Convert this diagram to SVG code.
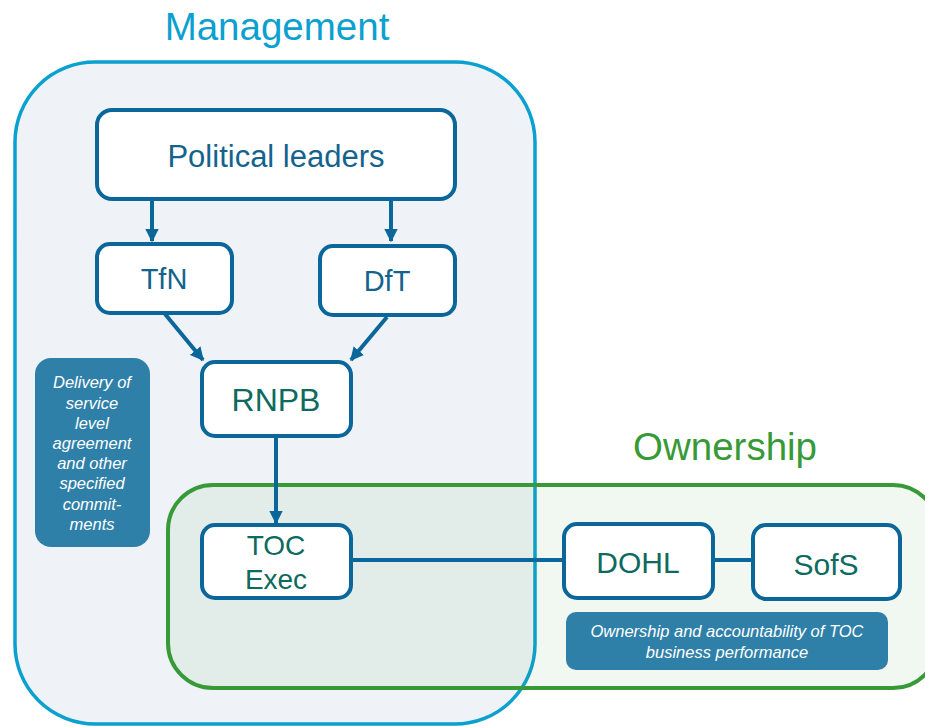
<svg xmlns="http://www.w3.org/2000/svg" width="925" height="728" viewBox="0 0 925 728">
  <defs>
    <marker id="arrow" viewBox="0 0 10 10" refX="9" refY="5" markerWidth="3.4" markerHeight="3.4" orient="auto" markerUnits="strokeWidth">
      <path d="M0,0 L10,5 L0,10 z" fill="#0b669a"/>
    </marker>
  </defs>
  <style>
    .title { font-family: "Liberation Sans", Arial, sans-serif; font-size: 38.5px; text-anchor: middle; }
    .node rect { fill: #ffffff; stroke: #0b669a; stroke-width: 4; }
    .lbl { font-family: "Liberation Sans", Arial, sans-serif; text-anchor: middle; }
    .blue { fill: #13638e; }
    .teal { fill: #0d6a5e; }
    .note rect { fill: #2f80a8; }
    .note text { font-family: "Liberation Sans", Arial, sans-serif; font-style: italic; fill: #ffffff; text-anchor: middle; }
    .conn { stroke: #0b669a; stroke-width: 4; fill: none; }
  </style>

  <rect width="925" height="728" fill="#ffffff"/>

  <!-- Management area -->
  <g id="management">
    <rect x="15" y="62" width="520" height="662" rx="80" ry="80" fill="#eff3f7" stroke="#0aa0d0" stroke-width="3.5"/>
    <text class="title" x="277" y="40" fill="#0aa0d0">Management</text>
  </g>

  <!-- Ownership area -->
  <g id="ownership">
    <rect x="168" y="485" width="770" height="203" rx="45" ry="45" fill="#3a9a3a" fill-opacity="0.07" stroke="#379a37" stroke-width="4"/>
    <text class="title" x="725" y="460" fill="#379a37">Ownership</text>
  </g>

  <!-- Connectors -->
  <g id="connectors">
    <line class="conn" x1="152" y1="199" x2="152" y2="241" marker-end="url(#arrow)"/>
    <line class="conn" x1="391" y1="199" x2="391" y2="241" marker-end="url(#arrow)"/>
    <line class="conn" x1="165" y1="314" x2="203" y2="360" marker-end="url(#arrow)"/>
    <line class="conn" x1="387" y1="317" x2="351" y2="360" marker-end="url(#arrow)"/>
    <line class="conn" x1="276" y1="436" x2="276" y2="523" marker-end="url(#arrow)"/>
    <line class="conn" x1="351" y1="560" x2="564" y2="560"/>
    <line class="conn" x1="713" y1="560" x2="753" y2="560"/>
  </g>

  <g id="political-leaders" class="node">
    <rect x="97" y="110" width="358" height="89" rx="15"/>
    <text class="lbl blue" x="276" y="167" font-size="31">Political leaders</text>
  </g>

  <g id="tfn" class="node">
    <rect x="97" y="244" width="135" height="69" rx="13"/>
    <text class="lbl blue" x="164" y="289" font-size="29">TfN</text>
  </g>

  <g id="dft" class="node">
    <rect x="320" y="246" width="135" height="69" rx="13"/>
    <text class="lbl blue" x="387" y="291" font-size="29">DfT</text>
  </g>

  <g id="rnpb" class="node">
    <rect x="202" y="362" width="149" height="74" rx="13"/>
    <text class="lbl teal" x="276" y="411" font-size="32">RNPB</text>
  </g>

  <g id="toc-exec" class="node">
    <rect x="202" y="525" width="149" height="73" rx="13"/>
    <text class="lbl teal" x="276" y="555" font-size="28">TOC</text>
    <text class="lbl teal" x="276" y="589" font-size="28">Exec</text>
  </g>

  <g id="dohl" class="node">
    <rect x="564" y="524" width="149" height="74" rx="13"/>
    <text class="lbl teal" x="638" y="573" font-size="30">DOHL</text>
  </g>

  <g id="sofs" class="node">
    <rect x="753" y="525" width="147" height="74" rx="13"/>
    <text class="lbl teal" x="826" y="575" font-size="30">SofS</text>
  </g>

  <g id="delivery-note" class="note">
    <rect x="35" y="358" width="115" height="189" rx="16"/>
    <g font-size="16.5">
      <text x="92" y="388">Delivery of</text>
      <text x="92" y="409">service</text>
      <text x="92" y="429">level</text>
      <text x="92" y="449">agreement</text>
      <text x="92" y="469">and other</text>
      <text x="92" y="489">specified</text>
      <text x="92" y="510">commit-</text>
      <text x="92" y="530">ments</text>
    </g>
  </g>

  <g id="ownership-note" class="note">
    <rect x="566" y="612" width="322" height="58" rx="10"/>
    <g font-size="16.5">
      <text x="727" y="637">Ownership and accountability of TOC</text>
      <text x="727" y="658">business performance</text>
    </g>
  </g>
</svg>
